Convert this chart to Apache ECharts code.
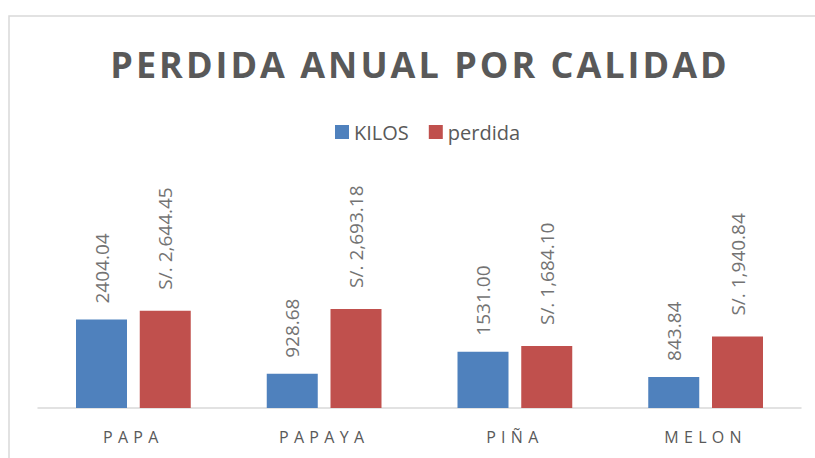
<!DOCTYPE html>
<html>
<head>
<meta charset="utf-8">
<script src="https://cdn.jsdelivr.net/npm/echarts@6/dist/echarts.min.js"></script>
<style>
html,body{margin:0;padding:0;background:#fff;}
#chart{width:815px;height:458px;}
</style>
</head>
<body>
<div id="chart"></div>
<script>
var titleText = 'PERDIDA ANUAL POR CALIDAD';
var categories = ['PAPA', 'PAPAYA', 'PIÑA', 'MELON'];
var seriesNames = ['KILOS', 'perdida'];
var kilos = [2404.04, 928.68, 1531.00, 843.84];
var perdida = [2644.45, 2693.18, 1684.10, 1940.84];

var chart = echarts.init(document.getElementById('chart'), null, {renderer: 'svg'});

function fmtSoles(v) {
  return 'S/. ' + v.toLocaleString('en-US', {minimumFractionDigits: 2, maximumFractionDigits: 2});
}

var labelBase = {
  show: true,
  position: 'top',
  rotate: 90,
  align: 'left',
  verticalAlign: 'middle',
  color: '#737373',
  fontSize: 19,
  fontFamily: 'Open Sans'
};

chart.setOption({
  animation: false,
  backgroundColor: '#ffffff',
  title: {
    text: titleText,
    left: 415,
    textAlign: 'center',
    top: 41,
    textStyle: {
      fontFamily: 'Open Sans',
      fontWeight: 'bold',
      fontSize: 36,
      color: '#595959'
    }
  },
  legend: {
    data: seriesNames,
    left: 330,
    top: 117,
    itemWidth: 14,
    itemHeight: 14,
    itemGap: 20,
    icon: 'rect',
    textStyle: {fontFamily: 'Open Sans', fontSize: 20, color: '#595959'}
  },
  graphic: [{
    type: 'rect',
    shape: {x: 9, y: 16, width: 1200, height: 1000},
    style: {fill: 'none', stroke: '#d9d9d9', lineWidth: 1.5},
    silent: true
  }],
  grid: {left: 38, right: 14, top: 297.6, bottom: 50, containLabel: false},
  xAxis: {
    type: 'category',
    data: categories,
    axisLine: {lineStyle: {color: '#d9d9d9', width: 1.5}},
    axisTick: {show: false},
    axisLabel: {
      margin: 21,
      fontFamily: 'Open Sans',
      fontSize: 16,
      color: '#595959'
    }
  },
  yAxis: {
    type: 'value',
    min: 0,
    max: 3000,
    show: false,
    splitLine: {show: false}
  },
  series: [{
    name: seriesNames[0],
    type: 'bar',
    data: kilos,
    barWidth: 51,
    barGap: '25%',
    itemStyle: {color: '#4f81bd'},
    label: Object.assign({}, labelBase, {
      distance: 16,
      formatter: function (p) { return p.value.toFixed(2); }
    })
  }, {
    name: seriesNames[1],
    type: 'bar',
    data: perdida,
    barWidth: 51,
    itemStyle: {color: '#c0504d'},
    label: Object.assign({}, labelBase, {
      distance: 21,
      formatter: function (p) { return fmtSoles(p.value); }
    })
  }]
});

function applySpacing() {
  var texts = document.querySelectorAll('#chart svg text');
  texts.forEach(function (t) {
    var c = t.textContent;
    if (c === titleText) {
      t.setAttribute('letter-spacing', '3px');
    } else if (categories.indexOf(c) >= 0) {
      t.setAttribute('letter-spacing', '5.3px');
    }
  });
}
applySpacing();
chart.on('finished', applySpacing);
setTimeout(applySpacing, 50);
</script>
</body>
</html>
